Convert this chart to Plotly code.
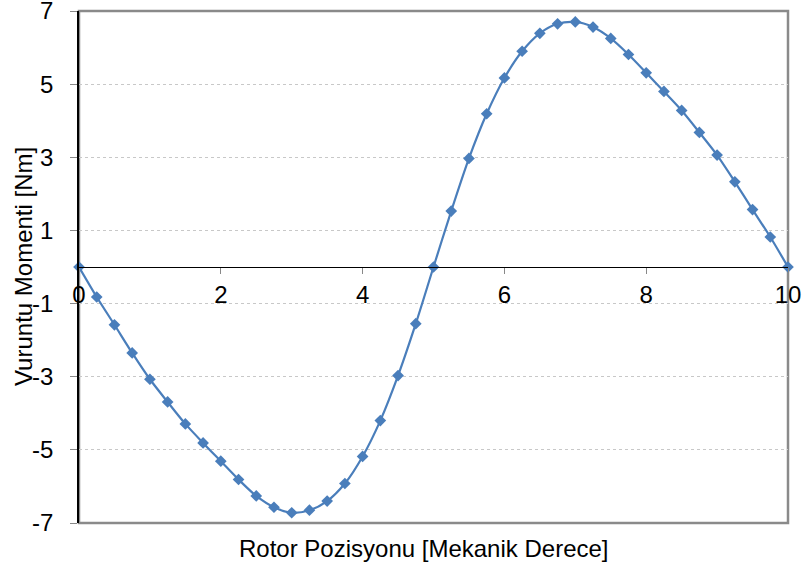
import plotly.graph_objects as go

# Rotor position [mechanical degrees]
positions = [0, 0.25, 0.5, 0.75, 1.0, 1.25, 1.5, 1.75, 2.0, 2.25, 2.5, 2.75, 3.0, 3.25,
             3.5, 3.75, 4.0, 4.25, 4.5, 4.75, 5.0, 5.25, 5.5, 5.75, 6.0, 6.25, 6.5, 6.75,
             7.0, 7.25, 7.5, 7.75, 8.0, 8.25, 8.5, 8.75, 9.0, 9.25, 9.5, 9.75, 10.0]
# Cogging torque [Nm]
torque = [0, -0.82, -1.58, -2.35, -3.07, -3.69, -4.29, -4.81, -5.31, -5.81, -6.26, -6.57,
          -6.72, -6.65, -6.40, -5.92, -5.18, -4.20, -2.97, -1.55, 0,
          1.53, 2.97, 4.19, 5.17, 5.90, 6.39, 6.65, 6.70, 6.56, 6.25, 5.81, 5.31, 4.80,
          4.28, 3.68, 3.06, 2.33, 1.57, 0.82, 0]

x_ticks = [0, 2, 4, 6, 8, 10]
y_ticks = [-7, -5, -3, -1, 1, 3, 5, 7]

color = "#4a7ebb"
font = "Liberation Sans, Arial, sans-serif"
fs = 24

fig = go.Figure()
fig.add_trace(go.Scatter(
    x=positions, y=torque, mode="lines+markers",
    line=dict(color=color, width=2.2, shape="spline", smoothing=0.8),
    marker=dict(symbol="diamond", size=9, color=color),
    showlegend=False, cliponaxis=False,
))

fig.update_layout(
    width=805, height=567,
    margin=dict(l=79, r=17, t=11, b=44, autoexpand=False),
    paper_bgcolor="white", plot_bgcolor="white",
    font=dict(family=font, size=fs, color="black"),
    xaxis=dict(
        range=[0, 10], tickvals=x_ticks, ticktext=[str(v) for v in x_ticks],
        showgrid=False, zeroline=False, automargin=False,
        anchor="free", position=0.5,
        showline=True, linecolor="black", linewidth=1.3,
        ticks="outside", ticklen=6, tickcolor="#888888", tickwidth=1,
        ticklabelstandoff=0, ticklabeloverflow="allow",
        tickfont=dict(family=font, size=fs, color="black"),
    ),
    yaxis=dict(
        range=[-7, 7], tickvals=y_ticks, ticktext=[str(v) for v in y_ticks],
        showgrid=True, gridcolor="#c8c8c8", gridwidth=1, griddash="3px,3px",
        zeroline=False, automargin=False,
        showline=True, linecolor="black", linewidth=1.5,
        ticks="outside", ticklen=7, tickcolor="#888888", tickwidth=1,
        ticklabelstandoff=12, ticklabeloverflow="allow",
        tickfont=dict(family=font, size=fs, color="black"),
    ),
    shapes=[
        dict(type="rect", xref="paper", yref="paper", x0=0, x1=1, y0=0, y1=1,
             line=dict(color="#8a8a8a", width=2.5), layer="below"),
    ],
    annotations=[
        dict(text="Rotor Pozisyonu [Mekanik Derece]", xref="paper", yref="paper",
             x=(424 - 79) / 709, y=-(548 - 523) / 512, xanchor="center", yanchor="middle",
             showarrow=False, font=dict(family=font, size=fs, color="black")),
        dict(text="Vuruntu Momenti [Nm]", xref="paper", yref="paper",
             x=(23 - 79) / 709, y=0.5, xanchor="center", yanchor="middle",
             textangle=-90, showarrow=False,
             font=dict(family=font, size=fs, color="black")),
    ],
)

fig.write_html("out.html")
